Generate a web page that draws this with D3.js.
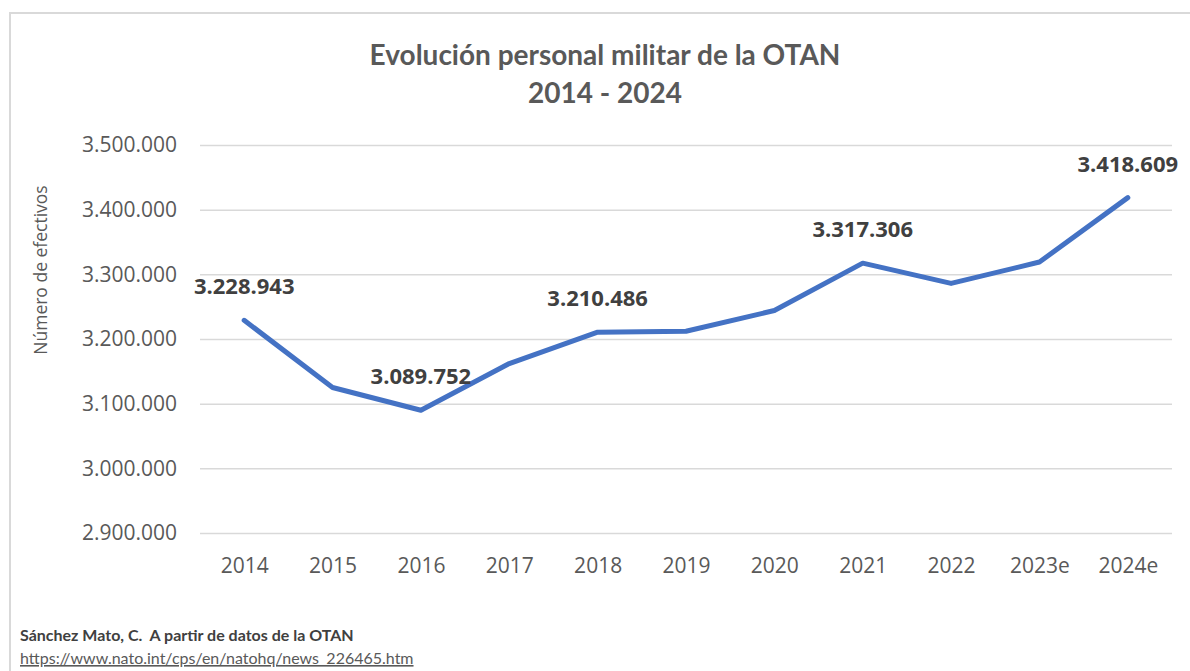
<!DOCTYPE html>
<html>
<head>
<meta charset="utf-8">
<script src="https://cdn.jsdelivr.net/npm/d3@7"></script>
<style>
  body { margin: 0; background: #fff; }
  svg { display: block; }
</style>
</head>
<body>
<div id="container"></div>
<script>
// data
let years = ['2014', '2015', '2016', '2017', '2018', '2019', '2020', '2021', '2022', '2023e', '2024e']
let personnel = [3228943, 3125000, 3089752, 3162000, 3210486, 3212000, 3244000, 3317306, 3286000, 3319000, 3418609]
// only these points carry a label in the reference
let labelled = ['2014', '2016', '2018', '2021', '2024e']
let yTicks = [2900000, 3000000, 3100000, 3200000, 3300000, 3400000, 3500000]

let titleLines = ['Evolución personal militar de la OTAN', '2014 - 2024']
let yTitle = 'Número de efectivos'
let sourceText = 'Sánchez Mato, C.  A partir de datos de la OTAN'
let sourceUrl = 'https://www.nato.int/cps/en/natohq/news_226465.htm'

let width = 1190,
  height = 671

let plot = { left: 200, right: 1172, top: 145, bottom: 533 }

let svg = d3.select('#container')
  .append('svg')
  .attr('width', width)
  .attr('height', height)

// spanish number format: dots for thousands
let es = d3.formatLocale({ decimal: ',', thousands: '.', grouping: [3], currency: ['', ' €'] })
let fmt = es.format(',d')

let x = d3.scalePoint()
  .domain(years)
  .range([plot.left, plot.right])
  .padding(0.5)

let y = d3.scaleLinear()
  .domain([2900000, 3500000])
  .range([plot.bottom, plot.top])

// chart frame
svg.append('rect')
  .attr('x', 10)
  .attr('y', 13)
  .attr('width', width)
  .attr('height', height)
  .attr('fill', 'none')
  .attr('stroke', '#d9d9d9')
  .attr('stroke-width', 2)

// title
svg.append('text')
  .attr('x', 605)
  .attr('y', 65)
  .attr('text-anchor', 'middle')
  .attr('font-family', 'Lato, sans-serif')
  .attr('font-weight', 'bold')
  .attr('font-size', 28)
  .attr('fill', '#595959')
  .selectAll('tspan')
  .data(titleLines)
  .join('tspan')
  .attr('x', 605)
  .attr('dy', (d, i) => i === 0 ? 0 : 38)
  .text(d => d)

// y axis: gridlines + labels
let yAxis = svg.append('g')
  .attr('transform', `translate(${plot.left},0)`)
  .call(d3.axisLeft(y)
    .tickValues(yTicks)
    .tickFormat(fmt)
    .tickSize(-(plot.right - plot.left))
    .tickPadding(23))

yAxis.select('.domain').remove()
yAxis.selectAll('.tick line')
  .attr('stroke', '#d9d9d9')
  .attr('stroke-width', 1.5)
yAxis.selectAll('.tick text')
  .attr('font-family', '"Open Sans", sans-serif')
  .attr('font-size', 21)
  .attr('fill', '#595959')

// x axis labels
let xAxis = svg.append('g')
  .attr('transform', `translate(0,${plot.bottom})`)
  .call(d3.axisBottom(x).tickSize(0).tickPadding(25))

xAxis.select('.domain').remove()
xAxis.selectAll('.tick text')
  .attr('font-family', '"Open Sans", sans-serif')
  .attr('font-size', 21)
  .attr('fill', '#595959')

// y axis title
svg.append('text')
  .attr('transform', `translate(47,${(plot.top + plot.bottom) / 2 - 69}) rotate(-90)`)
  .attr('text-anchor', 'middle')
  .attr('font-family', '"Open Sans", sans-serif')
  .attr('font-size', 17.5)
  .attr('fill', '#595959')
  .text(yTitle)

// the line
let series = years.map((yr, i) => ({ year: yr, value: personnel[i] }))

svg.append('path')
  .datum(series)
  .attr('fill', 'none')
  .attr('stroke', '#4472c4')
  .attr('stroke-width', 5)
  .attr('stroke-linejoin', 'round')
  .attr('stroke-linecap', 'round')
  .attr('d', d3.line().x(d => x(d.year)).y(d => y(d.value)))

// data labels
svg.selectAll('text.label')
  .data(series.filter(d => labelled.includes(d.year)))
  .join('text')
  .attr('class', 'label')
  .attr('x', d => x(d.year))
  .attr('y', d => y(d.value) - 26)
  .attr('text-anchor', 'middle')
  .attr('font-family', '"Open Sans", sans-serif')
  .attr('font-weight', 'bold')
  .attr('font-size', 22)
  .attr('fill', '#404040')
  .text(d => fmt(d.value))

// source note
svg.append('text')
  .attr('x', 20)
  .attr('y', 641)
  .attr('xml:space', 'preserve')
  .style('white-space', 'pre')
  .attr('font-family', 'Lato, sans-serif')
  .attr('font-weight', 'bold')
  .attr('font-size', 16)
  .attr('fill', '#404040')
  .text(sourceText)

svg.append('text')
  .attr('x', 20)
  .attr('y', 664)
  .attr('font-family', 'Lato, sans-serif')
  .attr('font-size', 16)
  .attr('fill', '#595959')
  .attr('text-decoration', 'underline')
  .text(sourceUrl)
</script>
</body>
</html>
